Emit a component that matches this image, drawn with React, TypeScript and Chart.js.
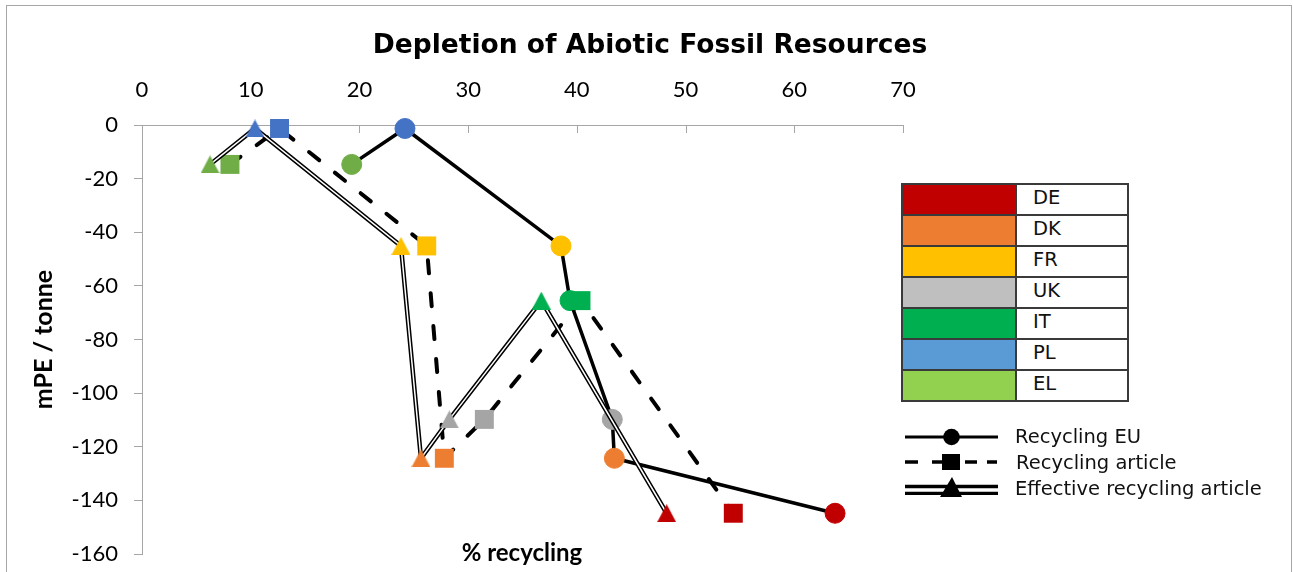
import React, { useEffect, useRef } from 'react';
import { Chart, registerables } from 'chart.js';

Chart.register(...registerables);

// ---- data ----
const countries = ['DE', 'DK', 'FR', 'UK', 'IT', 'PL', 'EL'];
const depletionValues = [-144.8, -124.3, -45.1, -109.8, -65.5, -1.3, -14.7];
const recyclingEU = [63.75, 43.45, 38.54, 43.26, 39.37, 24.19, 19.29];
const recyclingArticle = [54.39, 27.81, 26.19, 31.49, 40.38, 12.65, 8.09];
const effectiveRecyclingArticle = [48.26, 25.66, 23.82, 28.27, 36.73, 10.39, 6.26];
const markerColors = ['#C00000', '#ED7D31', '#FFC000', '#A5A5A5', '#00B050', '#4472C4', '#70AD47'];
const legendColors = ['#C00000', '#ED7D31', '#FFC000', '#BFBFBF', '#00B050', '#5B9BD5', '#92D050'];
const seriesNames = ['Recycling EU', 'Recycling article', 'Effective recycling article'];
const xMin = 0, xMax = 70, xStep = 10;
const yMin = -160, yMax = 0, yStep = 20;

const AXIS_COLOR = '#a6a6a6';

function buildPoints(xs: number[]) {
  return countries
    .map((c, i) => ({ x: xs[i], y: depletionValues[i], idx: i }))
    .sort((a, b) => a.x - b.x);
}

function makeTriangle(color: string, w: number, h: number) {
  const c = document.createElement('canvas');
  c.width = w;
  c.height = h;
  const g = c.getContext('2d')!;
  g.fillStyle = color;
  g.beginPath();
  g.moveTo(0, h);
  g.lineTo(w / 2, 0);
  g.lineTo(w, h);
  g.closePath();
  g.fill();
  return c;
}

export default function App() {
  const ref = useRef<HTMLCanvasElement>(null);

  useEffect(() => {
    const canvas = ref.current!;
    const eu = buildPoints(recyclingEU);
    const art = buildPoints(recyclingArticle);
    const eff = buildPoints(effectiveRecyclingArticle);

    const innerTicks = {
      id: 'innerXTicks',
      beforeDatasetsDraw(chart: any) {
        const s = chart.scales.x;
        const ctx = chart.ctx;
        const top = chart.chartArea.top;
        ctx.save();
        ctx.strokeStyle = AXIS_COLOR;
        ctx.lineWidth = 1;
        s.ticks.forEach((t: any) => {
          const px = Math.round(s.getPixelForValue(t.value)) + 0.5;
          ctx.beginPath();
          ctx.moveTo(px, top);
          ctx.lineTo(px, top + 8);
          ctx.stroke();
        });
        ctx.restore();
      },
    };

    const chart = new Chart(canvas, {
      type: 'line',
      data: {
        datasets: [
          {
            label: seriesNames[0],
            data: eu.map((p) => ({ x: p.x, y: p.y })),
            borderColor: '#000',
            borderWidth: 3.5,
            pointStyle: 'circle',
            pointRadius: 10,
            pointBorderWidth: 1,
            pointBackgroundColor: eu.map((p) => markerColors[p.idx]),
            pointBorderColor: eu.map((p) => markerColors[p.idx]),
            tension: 0,
            clip: false,
            order: 5,
          } as any,
          {
            label: seriesNames[1],
            data: art.map((p) => ({ x: p.x, y: p.y })),
            borderColor: '#000',
            borderWidth: 4,
            borderDash: [13, 20],
            borderCapStyle: 'round',
            pointStyle: 'rect',
            pointRadius: 13.4,
            pointBorderWidth: 0,
            pointBackgroundColor: art.map((p) => markerColors[p.idx]),
            pointBorderColor: art.map((p) => markerColors[p.idx]),
            tension: 0,
            clip: false,
            order: 4,
          } as any,
          {
            label: seriesNames[2] + ' outer',
            data: eff.map((p) => ({ x: p.x, y: p.y })),
            borderColor: '#000',
            borderWidth: 4.5,
            pointRadius: 0,
            tension: 0,
            clip: false,
            order: 3,
          } as any,
          {
            label: seriesNames[2],
            data: eff.map((p) => ({ x: p.x, y: p.y })),
            borderColor: '#fff',
            borderWidth: 1.5,
            pointStyle: eff.map((p) => makeTriangle(markerColors[p.idx], 19, 18)),
            pointRadius: 10,
            tension: 0,
            clip: false,
            order: 2,
          } as any,
        ],
      },
      options: {
        responsive: false,
        animation: false,
        events: [],
        layout: { padding: { left: 0, top: 0, right: 390, bottom: 18 } },
        plugins: {
          legend: { display: false },
          tooltip: { enabled: false },
          title: { display: false },
        },
        scales: {
          x: {
            type: 'linear',
            position: 'top',
            min: xMin,
            max: xMax,
            ticks: {
              stepSize: xStep,
              padding: 22,
              color: '#000',
              font: { family: 'Lato', size: 22 },
            },
            grid: { drawOnChartArea: false, drawTicks: false },
            border: { display: true, color: AXIS_COLOR, width: 1 },
            afterFit: (s: any) => {
              s.height = 125;
              s.paddingLeft = 0;
              s.paddingRight = 0;
            },
          },
          y: {
            type: 'linear',
            min: yMin,
            max: yMax,
            ticks: {
              stepSize: yStep,
              padding: 16,
              color: '#000',
              font: { family: 'Lato', size: 22 },
            },
            grid: { drawOnChartArea: false, drawTicks: true, tickLength: 8, color: AXIS_COLOR },
            border: { display: true, color: AXIS_COLOR, width: 1 },
            title: {
              display: true,
              text: 'mPE / tonne',
              color: '#000',
              font: { family: 'Lato', size: 25, weight: 'bold' },
              padding: { top: 29, bottom: 0 },
            },
            afterFit: (s: any) => {
              s.width = 142;
              s.paddingTop = 0;
              s.paddingBottom = 0;
            },
          },
        },
      } as any,
      plugins: [innerTicks],
    });
    return () => chart.destroy();
  }, []);

  const rowH = 29;
  return (
    <div
      style={{
        position: 'absolute',
        left: 0,
        top: 0,
        width: 1293,
        height: 572,
        overflow: 'hidden',
        background: '#fff',
      }}
    >
      <div
        style={{
          position: 'absolute',
          left: 6,
          top: 5,
          width: 1284,
          height: 620,
          border: '1.5px solid #a6a6a6',
        }}
      />
      <canvas
        ref={ref}
        width={1293}
        height={572}
        style={{ position: 'absolute', left: 0, top: 0, width: 1293, height: 572 }}
      />
      <div
        style={{
          position: 'absolute',
          left: 250,
          top: 29,
          width: 800,
          textAlign: 'center',
          fontFamily: '"DejaVu Sans"',
          fontWeight: 'bold',
          fontSize: 26.5,
          lineHeight: '30px',
          color: '#000',
        }}
      >
        Depletion of Abiotic Fossil Resources
      </div>
      <div
        style={{
          position: 'absolute',
          left: 422,
          top: 538,
          width: 200,
          textAlign: 'center',
          fontFamily: 'Lato',
          fontWeight: 'bold',
          fontSize: 24,
          lineHeight: '28px',
          color: '#000',
        }}
      >
        % recycling
      </div>
      <div
        style={{
          position: 'absolute',
          left: 901,
          top: 183,
          display: 'grid',
          gridTemplateColumns: '112px 110px',
          gridAutoRows: rowH + 'px',
          gap: 2,
          padding: 2,
          background: '#3a3a3a',
        }}
      >
        {countries.map((c, i) => (
          <React.Fragment key={c}>
            <div style={{ background: legendColors[i] }} />
            <div
              style={{
                background: '#fff',
                paddingLeft: 16,
                fontFamily: '"DejaVu Sans"',
                fontSize: 19.5,
                lineHeight: '25px',
                color: '#111',
              }}
            >
              {c}
            </div>
          </React.Fragment>
        ))}
      </div>
      <svg
        width={110}
        height={80}
        style={{ position: 'absolute', left: 900, top: 420 }}
      >
        <line x1={5} y1={17} x2={98} y2={17} stroke="#000" strokeWidth={3} />
        <circle cx={51.5} cy={17} r={8.3} fill="#000" />
        <g stroke="#000" strokeWidth={3.5}>
          <line x1={5} y1={42} x2={18} y2={42} />
          <line x1={32} y1={42} x2={42} y2={42} />
          <line x1={65} y1={42} x2={77} y2={42} />
          <line x1={87} y1={42} x2={97} y2={42} />
        </g>
        <rect x={42} y={34} width={18} height={16} fill="#000" />
        <line x1={5} y1={66.5} x2={98} y2={66.5} stroke="#000" strokeWidth={3.3} />
        <line x1={5} y1={73.3} x2={98} y2={73.3} stroke="#000" strokeWidth={3.3} />
        <polygon points="40,77 52,57 62,77" fill="#000" />
      </svg>
      {seriesNames.map((n, i) => (
        <div
          key={n}
          style={{
            position: 'absolute',
            left: i === 1 ? 1016 : 1015,
            top: [437, 463, 489][i] - 13,
            height: 26,
            lineHeight: '26px',
            fontFamily: '"DejaVu Sans"',
            fontSize: 19.5,
            color: '#111',
            whiteSpace: 'nowrap',
          }}
        >
          {n}
        </div>
      ))}
    </div>
  );
}
